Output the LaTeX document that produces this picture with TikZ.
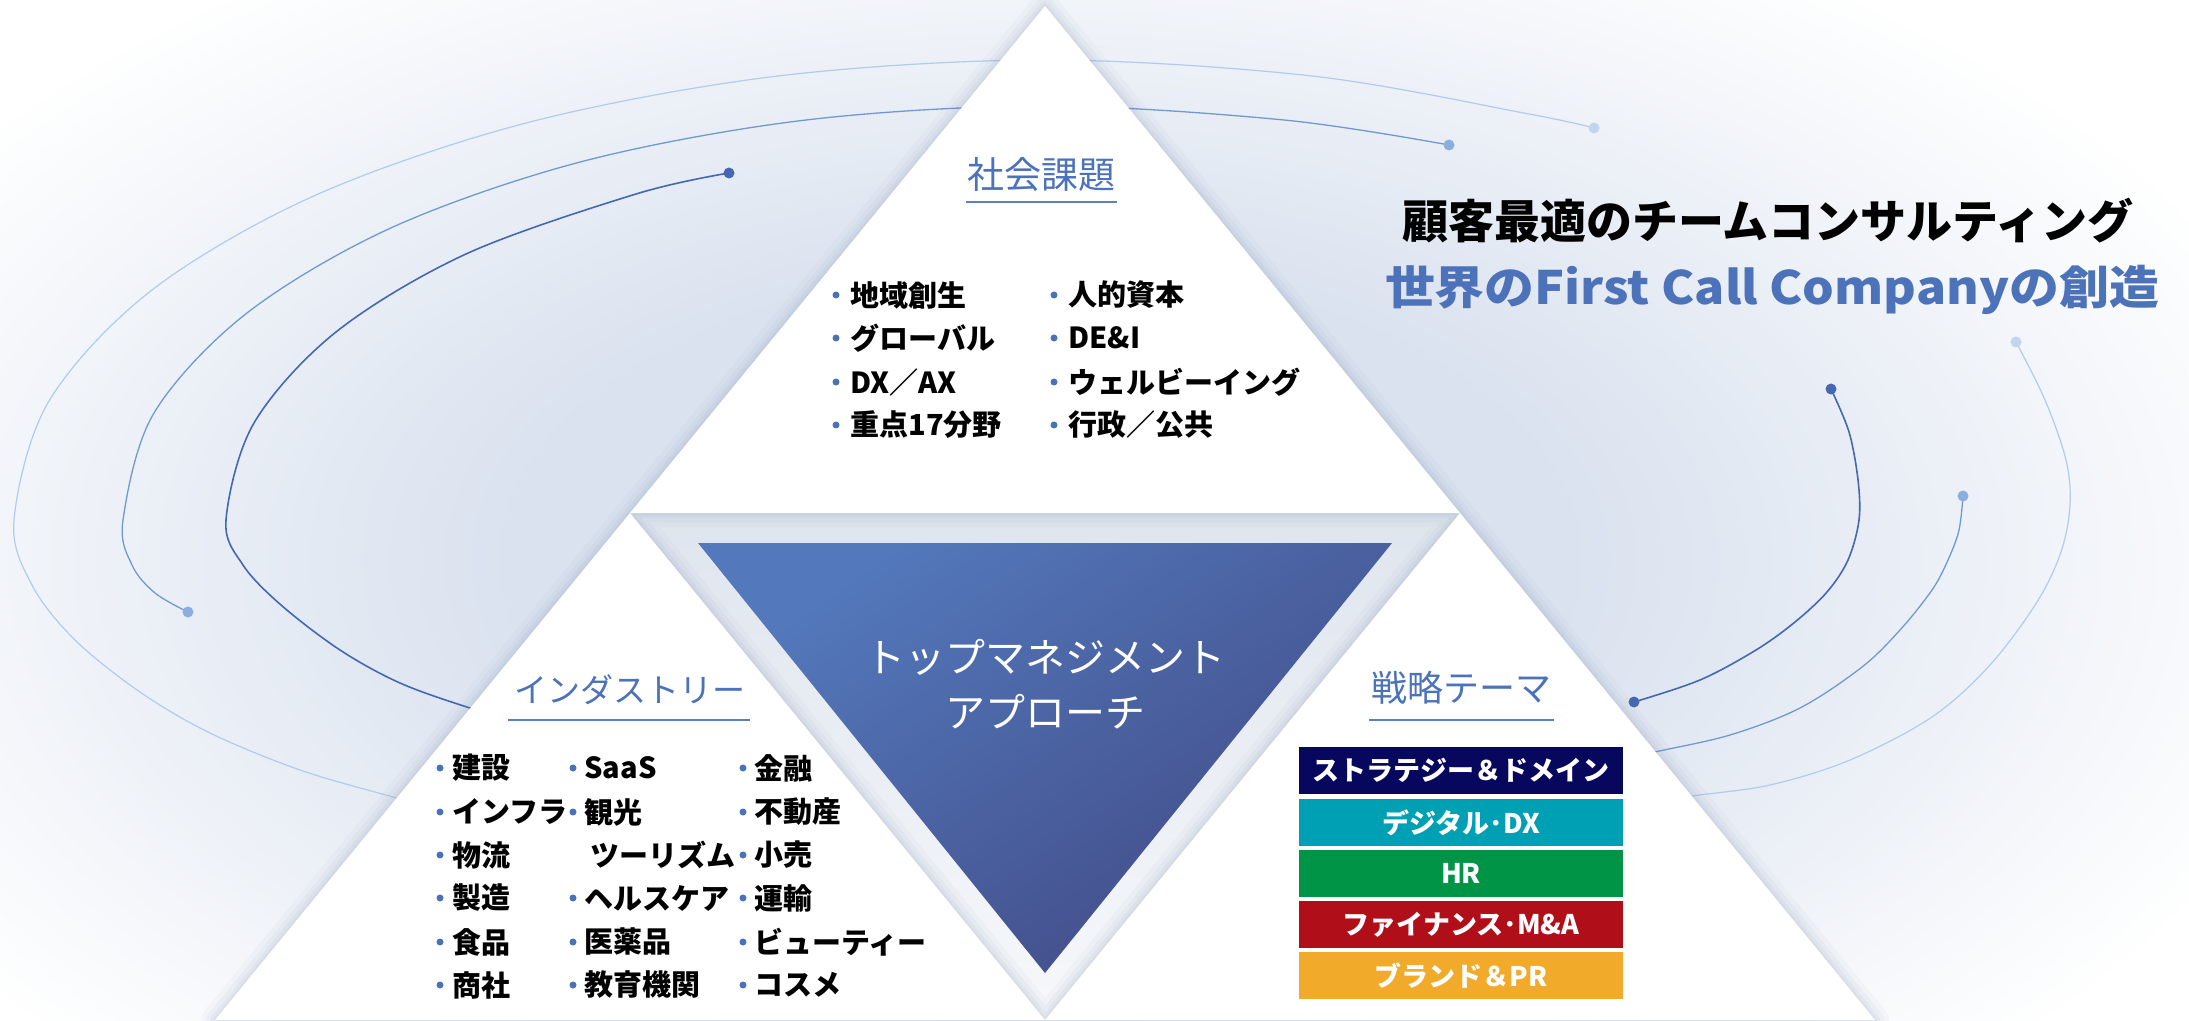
\documentclass[tikz,border=0pt]{standalone}
\usepackage{fontspec}
\setmainfont{Noto Sans CJK JP}
\definecolor{titleblue}{HTML}{4C72B9}
\definecolor{ulblue}{HTML}{5A80C2}
\definecolor{bul}{HTML}{4A72B8}
\definecolor{arcdark}{HTML}{4568B1}
\definecolor{arcmid}{HTML}{7099D3}
\definecolor{arclight}{HTML}{B3CBEA}
\definecolor{dotmid}{HTML}{8AAEDE}
\definecolor{dotlight}{HTML}{C2D5EE}
\definecolor{tri1}{HTML}{5379BC}
\definecolor{tri2}{HTML}{424A86}
\definecolor{bnavy}{HTML}{07075E}
\definecolor{bteal}{HTML}{00A0B4}
\definecolor{bgreen}{HTML}{009447}
\definecolor{bred}{HTML}{B00F1A}
\definecolor{borange}{HTML}{F2AA2B}
\definecolor{glowc}{HTML}{DAE2EF}
\definecolor{gapt}{HTML}{DFE5EE}
\definecolor{gapb}{HTML}{F6F8FB}
\definecolor{shadowc}{HTML}{6F80A5}
\pgfdeclareradialshading{glow}{\pgfpointorigin}{color(0bp)=(glowc); color(10bp)=(glowc); color(25bp)=(white); color(50bp)=(white)}
\begin{document}
\begin{tikzpicture}[x=0.5pt,y=-0.5pt,
  item/.style={anchor=west,inner sep=0pt,text=black,font=\fontsize{14.5pt}{14.5pt}\selectfont\bfseries},
  head/.style={inner sep=0pt,text=titleblue},
  uline/.style={draw=ulblue,line width=1pt},
  bdot/.style={fill=bul},
  box/.style={minimum width=162pt,minimum height=23.5pt,inner sep=0pt,text=white,font=\fontsize{13.5pt}{13.5pt}\selectfont\bfseries},
  arcd/.style={draw=arcdark,line width=0.8pt},
  arcm/.style={draw=arcmid,line width=0.65pt},
  arcl/.style={draw=arclight,line width=0.6pt},
  shadowline/.style={draw=shadowc,line join=round}
]
\useasboundingbox (0,0) rectangle (2189,1021);
\clip (0,0) rectangle (2189,1021);
\fill[white] (0,0) rectangle (2189,1021);
\shade[shading=glow] (1040,560) ellipse (1320 and 720);

% left arcs
\draw[arcl] plot[smooth,tension=0.55] coordinates {(1594,128) (1529,114) (1312,76) (1045,60) (778,76) (530,122) (316,195) (152,290) (49,401) (14,520) (32,585) (75,640) (140,692) (210,733) (300,770) (393,797) (470,818)};
\draw[arcm] plot[smooth,tension=0.55] coordinates {(1449,145) (1284,120) (1045,106) (806,120) (584,161) (393,227) (247,313) (154,413) (123,520) (132,565) (155,593) (188,612)};
\draw[arcd] plot[smooth,tension=0.55] coordinates {(729,173) (636,194) (466,254) (336,332) (254,423) (226,520) (243,565) (281,605) (340,650) (400,683) (470,708) (540,728)};
% right arcs
\draw[arcd] plot[smooth,tension=0.55] coordinates {(1831,389) (1849,432) (1858,480) (1859,520) (1848,560) (1827,592) (1795,622) (1756,650) (1700,680) (1634,702)};
\draw[arcm] plot[smooth,tension=0.55] coordinates {(1963,496) (1959,530) (1948,560) (1932,590) (1900,630) (1862,667) (1800,708) (1730,735) (1655,752) (1600,765)};
\draw[arcl] plot[smooth,tension=0.55] coordinates {(2016,342) (2045,400) (2066,460) (2070,505) (2061,552) (2037,602) (1990,665) (1932,717) (1850,760) (1770,785) (1692,796) (1630,806)};
% dots
\fill[dotlight] (1594,128) circle (5.5);
\fill[dotmid] (1449,145) circle (5.5);
\fill[arcdark] (729,173) circle (5.5);
\fill[dotmid] (188,612) circle (5.5);
\fill[arcdark] (1831,389) circle (5.5);
\fill[arcdark] (1634,702) circle (5.5);
\fill[dotmid] (1963,496) circle (5.5);
\fill[dotlight] (2016,342) circle (5.5);

% triangles
\coordinate (A) at (1045,6);
\coordinate (L) at (630,513);
\coordinate (R) at (1460,513);
\coordinate (P) at (215,1020);
\coordinate (M) at (1045,1020);
\coordinate (Q) at (1875,1020);
\shade[top color=gapt,bottom color=gapb] (L)--(R)--(M)--cycle;
\foreach \lw/\op in {14pt/0.04,9pt/0.05,5pt/0.06,2pt/0.07}{
  \draw[shadowline,line width=\lw,opacity=\op] (A)--(L)--(R)--cycle (L)--(P)--(M)--cycle (R)--(M)--(Q)--cycle;
}
\fill[white] (A)--(L)--(R)--cycle;
\fill[white] (L)--(P)--(M)--cycle;
\fill[white] (R)--(M)--(Q)--cycle;
\coordinate (D1) at (698,543);
\coordinate (D2) at (1392,543);
\coordinate (D3) at (1045,973);
\shade[top color=tri1,bottom color=tri2,shading angle=35] (D1)--(D2)--(D3)--cycle;

% center text
\node[align=center,text=white,inner sep=0pt,font=\fontsize{20pt}{27.5pt}\selectfont] (center) at (1045,684) {トップマネジメント\\アプローチ};

% main title
\node[inner sep=0pt,text=black,font=\fontsize{23pt}{23pt}\selectfont\bfseries] (main1) at (1768,221) {顧客最適のチームコンサルティング};
\node[inner sep=0pt,text=titleblue,font=\fontsize{23pt}{23pt}\selectfont\bfseries] (main2) at (1772,290) {\scalebox{1.085}[1]{世界のFirst Call Companyの創造}};

% headers
\node[head,font=\fontsize{18.5pt}{18.5pt}\selectfont] (h1) at (1041,174) {社会課題};
\draw[uline] (966,202) -- (1117,202);
\node[head,font=\fontsize{16.5pt}{16.5pt}\selectfont] (h2) at (630,690) {インダストリー};
\draw[uline] (508,720) -- (750,720);
\node[head,font=\fontsize{18pt}{18pt}\selectfont] (h3) at (1461,688) {戦略テーマ};
\draw[uline] (1369,720) -- (1554,720);

% top items
\foreach \y in {295,338,382,425}{\fill[bdot] (836,\y) circle (3.5); \fill[bdot] (1054,\y) circle (3.5);}
\node[item] (s1) at (850,295) {地域創生};
\node[item] (s2) at (850,338) {グローバル};
\node[item] (s3) at (850,382) {DX／AX};
\node[item] (s4) at (850,425) {重点17分野};
\node[item] (s5) at (1068,295) {人的資本};
\node[item] (s6) at (1068,338) {DE\&I};
\node[item] (s7) at (1068,382) {ウェルビーイング};
\node[item] (s8) at (1068,425) {行政／公共};

% industry items
\foreach \y in {768,812,855,898,942,985}{\fill[bdot] (440,\y) circle (3.5); \fill[bdot] (743,\y) circle (3.5);}
\foreach \y in {768,812,898,942,985}{\fill[bdot] (573,\y) circle (3.5);}
\node[item] (i1) at (452,768) {建設};
\node[item] (i2) at (452,812) {インフラ};
\node[item] (i3) at (452,855) {物流};
\node[item] (i4) at (452,898) {製造};
\node[item] (i5) at (452,942) {食品};
\node[item] (i6) at (452,985) {商社};
\node[item] (j1) at (584,768) {SaaS};
\node[item] (j2) at (584,812) {観光};
\node[item] (j3) at (590,855) {ツーリズム};
\node[item] (j4) at (584,898) {ヘルスケア};
\node[item] (j5) at (584,942) {医薬品};
\node[item] (j6) at (584,985) {教育機関};
\node[item] (k1) at (754,768) {金融};
\node[item] (k2) at (754,812) {不動産};
\node[item] (k3) at (754,855) {小売};
\node[item] (k4) at (754,898) {運輸};
\node[item] (k5) at (754,942) {ビューティー};
\node[item] (k6) at (754,985) {コスメ};

% strategy boxes
\node[box,fill=bnavy] (b1) at (1461,770.5) {ストラテジー＆ドメイン};
\node[box,fill=bteal] (b2) at (1461,822.5) {デジタル･DX};
\node[box,fill=bgreen] (b3) at (1461,873.5) {HR};
\node[box,fill=bred] (b4) at (1461,924.5) {ファイナンス･M\&A};
\node[box,fill=borange] (b5) at (1461,975.5) {ブランド＆PR};
\end{tikzpicture}
\end{document}
